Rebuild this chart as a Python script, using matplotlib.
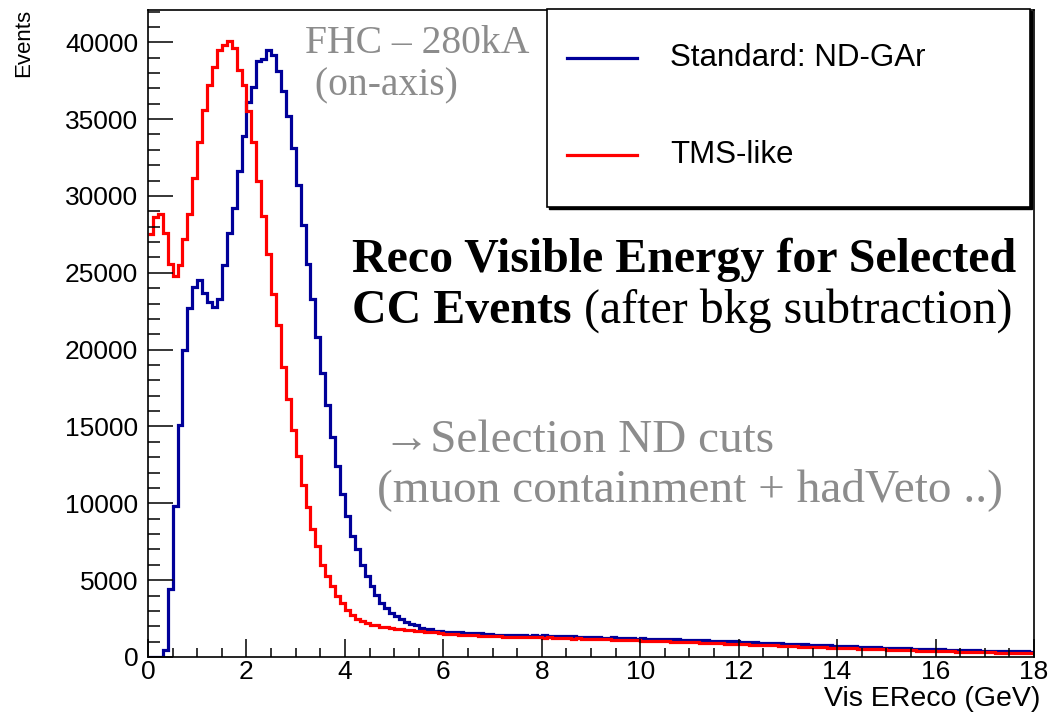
import numpy as np
import matplotlib
matplotlib.use("Agg")
import matplotlib.pyplot as plt
from matplotlib.patches import Rectangle
from matplotlib.lines import Line2D
from matplotlib.ticker import MultipleLocator

# bin range of the histograms (GeV)
e_min, e_max = 0.0, 18.0

# Standard: ND-GAr, events per 0.1 GeV bin
blue = [
    0, 0, 0, 450, 4400, 9800, 15100, 20000, 22700, 24100,
    24500, 23700, 23100, 22800, 23300, 25500, 27600, 29200, 31600, 33900,
    36100, 37100, 38800, 38900, 39500, 39200, 38100, 36800, 35200, 33100,
    30700, 28100, 25600, 23300, 20800, 18500, 16400, 14300, 12400, 10600,
    9200, 7900, 7000, 6000, 5300, 4600, 4050, 3500, 3200, 2850,
    2650, 2450, 2250, 2150, 2050, 1900, 1850, 1800, 1720, 1700,
    1650, 1640, 1600, 1620, 1580, 1560, 1570, 1540, 1500, 1480,
    1460, 1450, 1430, 1440, 1420, 1400, 1410, 1390, 1400, 1380,
    1400, 1370, 1390, 1360, 1380, 1340, 1350, 1320, 1330, 1300,
    1280, 1300, 1260, 1250, 1270, 1230, 1220, 1240, 1210, 1200,
    1220, 1190, 1180, 1170, 1160, 1180, 1150, 1140, 1130, 1120,
    1110, 1100, 1090, 1080, 1060, 1070, 1040, 1030, 1020, 1010,
    1000, 990, 970, 960, 940, 930, 920, 900, 890, 870,
    860, 850, 830, 820, 810, 790, 780, 770, 750, 740,
    730, 710, 700, 690, 670, 660, 650, 640, 620, 610,
    600, 590, 580, 570, 560, 550, 540, 530, 520, 510,
    500, 490, 480, 470, 470, 460, 450, 440, 430, 420,
    420, 410, 400, 390, 390, 380, 370, 370, 360, 350,
]

# TMS-like
red = [
    27500, 28600, 28800, 27600, 25600, 24800, 25500, 27200, 28800, 31200,
    33500, 35600, 37200, 38400, 39500, 39850, 40100, 39600, 38200, 37200,
    35500, 33500, 31000, 28700, 26200, 23600, 21600, 18900, 16800, 14800,
    13100, 11200, 9750, 8300, 7200, 6000, 5300, 4650, 4000, 3500,
    3050, 2750, 2500, 2350, 2200, 2100, 2050, 1980, 1920, 1870,
    1820, 1790, 1760, 1730, 1700, 1680, 1650, 1620, 1600, 1570,
    1520, 1480, 1470, 1450, 1430, 1400, 1420, 1380, 1370, 1360,
    1350, 1340, 1320, 1330, 1310, 1300, 1290, 1300, 1280, 1270,
    1260, 1270, 1240, 1250, 1230, 1220, 1200, 1210, 1190, 1180,
    1170, 1160, 1150, 1140, 1130, 1120, 1110, 1100, 1090, 1080,
    1070, 1060, 1050, 1040, 1030, 1010, 1000, 990, 980, 970,
    960, 950, 940, 920, 910, 900, 890, 870, 860, 850,
    840, 820, 810, 800, 790, 770, 760, 750, 730, 720,
    710, 700, 680, 670, 660, 650, 640, 620, 610, 600,
    590, 580, 570, 560, 550, 530, 520, 510, 500, 490,
    480, 470, 460, 450, 440, 430, 420, 410, 400, 390,
    380, 370, 360, 360, 350, 340, 330, 320, 320, 310,
    300, 300, 290, 280, 280, 270, 270, 260, 250, 250,
]

labels = ["Standard: ND-GAr", "TMS-like"]
colors = ["#000099", "#ff0000"]

W, H = 1053, 715


def fx(x):
    return x / W


def fy(y):
    return 1 - y / H


plt.rcParams["font.family"] = ["Liberation Sans", "DejaVu Sans"]

fig = plt.figure(figsize=(W / 100, H / 100), dpi=100)
ax = fig.add_axes([fx(148), fy(657), fx(1034) - fx(148), (657 - 10) / H])

edges = np.linspace(e_min, e_max, len(blue) + 1)
ax.stairs(blue, edges, color=colors[0], lw=2.3, baseline=None)
ax.stairs(red, edges, color=colors[1], lw=2.3, baseline=None)

ax.set_xlim(e_min, e_max)
ax.set_ylim(0, 42100)
ax.xaxis.set_major_locator(MultipleLocator(2))
ax.xaxis.set_minor_locator(MultipleLocator(0.5))
ax.yaxis.set_major_locator(MultipleLocator(5000))
ax.yaxis.set_minor_locator(MultipleLocator(1000))
ax.tick_params(axis="x", which="major", direction="in", length=13, width=1.1,
               labelsize=19, pad=2)
ax.tick_params(axis="x", which="minor", direction="in", length=6.5, width=1.1)
ax.tick_params(axis="y", which="major", direction="in", length=18, width=1.1,
               labelsize=19, pad=7)
ax.tick_params(axis="y", which="minor", direction="in", length=8.5, width=1.1)
for s in ax.spines.values():
    s.set_linewidth(1.2)

fig.text(fx(1040), fy(699), "Vis EReco (GeV)", ha="right", va="center", fontsize=20.5)
fig.text(fx(24), fy(9), "Events", ha="center", va="top", rotation=90, fontsize=16)

# legend box (ROOT style with shadow)
fig.patches.append(Rectangle((fx(549), fy(209)), fx(1032) - fx(549), (209 - 11) / H,
                             transform=fig.transFigure, facecolor="black",
                             edgecolor="black", zorder=5))
fig.patches.append(Rectangle((fx(547), fy(207)), fx(1030) - fx(547), (207 - 9) / H,
                             transform=fig.transFigure, facecolor="white",
                             edgecolor="black", lw=1.2, zorder=6))
for i, (lab, c) in enumerate(zip(labels, colors)):
    yy = 58 + i * 97
    fig.lines.append(Line2D([fx(567), fx(637)], [fy(yy), fy(yy)], transform=fig.transFigure,
                            color=c, lw=2.3, zorder=7))
    fig.text(fx(670), fy(yy), lab, ha="left", va="center", fontsize=22.5, zorder=7)

# slide annotations
serif = ["Liberation Serif", "DejaVu Serif"]
grey = "#8c8c8c"
fig.text(fx(305), fy(53), "FHC \u2013 280kA", ha="left", va="baseline",
         fontsize=28.5, color=grey, family=serif)
fig.text(fx(305), fy(95), " (on-axis)", ha="left", va="baseline",
         fontsize=28.5, color=grey, family=serif)
fig.text(fx(352), fy(272), "Reco Visible Energy for Selected", ha="left", va="baseline",
         fontsize=34.5, fontweight="bold", family=serif)
t1 = fig.text(fx(352), fy(323), "CC Events", ha="left", va="baseline",
              fontsize=34.5, fontweight="bold", family=serif)
ax.annotate(" (after bkg subtraction)", xy=(1, 0), xycoords=t1, ha="left", va="bottom",
            fontsize=34.5, family=serif, annotation_clip=False)
fig.text(fx(383), fy(452), "\u2192Selection ND cuts", ha="left", va="baseline",
         fontsize=34, color=grey, family=serif)
fig.text(fx(377), fy(501), "(muon containment + hadVeto ..)", ha="left", va="baseline",
         fontsize=34, color=grey, family=serif)

fig.savefig("out.png", dpi=100)
